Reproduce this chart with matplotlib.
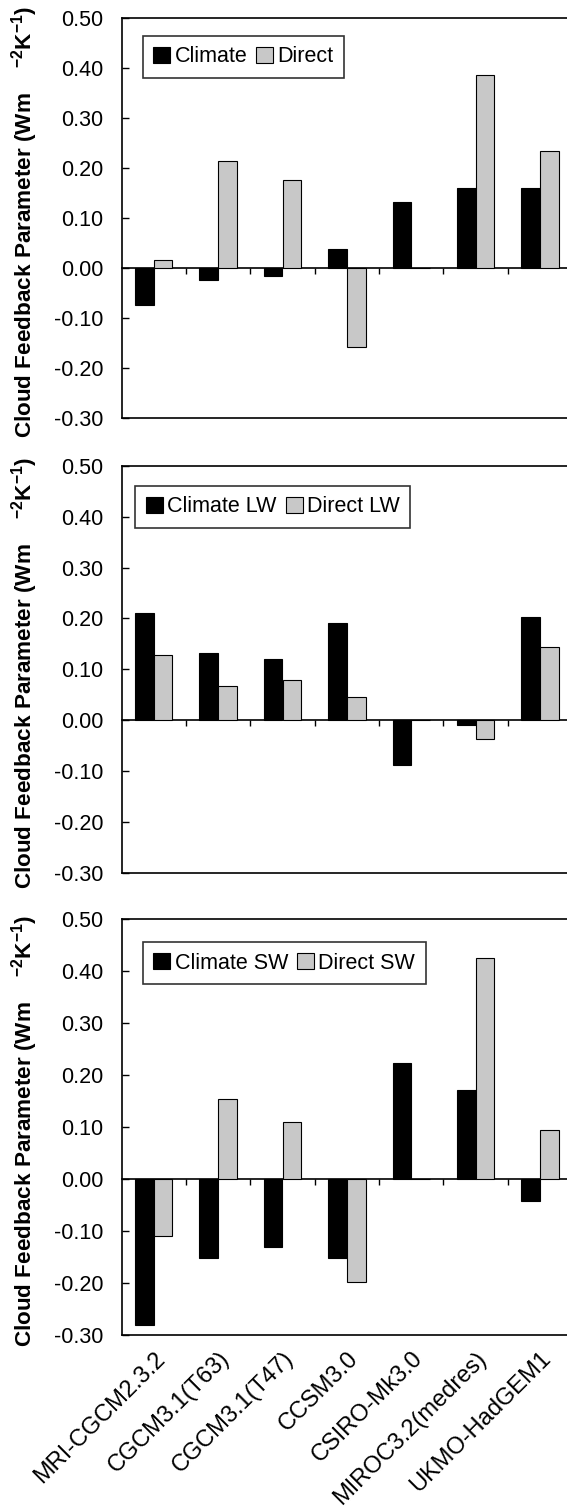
import numpy as np
import matplotlib
matplotlib.use("Agg")
import matplotlib.pyplot as plt

plt.rcParams['font.family'] = ['Liberation Sans', 'DejaVu Sans']
plt.rcParams['mathtext.fontset'] = 'custom'
plt.rcParams['mathtext.rm'] = 'Liberation Sans'
plt.rcParams['mathtext.bf'] = 'Liberation Sans:bold'
plt.rcParams['mathtext.default'] = 'bf'
plt.rcParams['axes.unicode_minus'] = False

# modelle
models = ['MRI-CGCM2.3.2', 'CGCM3.1(T63)', 'CGCM3.1(T47)', 'CCSM3.0',
          'CSIRO-Mk3.0', 'MIROC3.2(medres)', 'UKMO-HadGEM1']

# total cloud feedback
climate_net = [-0.073, -0.023, -0.015, 0.038, 0.131, 0.160, 0.160]
direct_net = [0.017, 0.214, 0.176, -0.157, 0.0, 0.386, 0.234]

# longwave
climate_lw = [0.211, 0.133, 0.121, 0.191, -0.088, -0.010, 0.203]
direct_lw = [0.128, 0.067, 0.080, 0.046, 0.0, -0.037, 0.144]

# shortwave
climate_sw = [-0.280, -0.151, -0.131, -0.151, 0.224, 0.172, -0.042]
direct_sw = [-0.110, 0.154, 0.110, -0.199, 0.0, 0.425, 0.094]

panels = [
    (climate_net, direct_net, 'Climate', 'Direct'),
    (climate_lw, direct_lw, 'Climate LW', 'Direct LW'),
    (climate_sw, direct_sw, 'Climate SW', 'Direct SW'),
]

# achsen-positionen (pixel): oben, unten
W, H = 567, 1507
left_px, width_px = 121.5, 450.8
boxes = [(17.7, 418.3), (465.7, 873.0), (919.0, 1335.0)]
legend_anchor = [(0.047, 0.955), (0.031, 0.951), (0.047, 0.945)]

ymin, ymax = -0.30, 0.50
bar_w = 0.29
grey = '#c8c8c8'
fs = 15.5

fig = plt.figure(figsize=(W / 100, H / 100), dpi=100)
x = np.arange(len(models))

for i, (clim, drct, lab_c, lab_d) in enumerate(panels):
    top, bot = boxes[i]
    ax = fig.add_axes([left_px / W, (H - bot) / H, width_px / W, (bot - top) / H])

    ax.bar(x - bar_w / 2, clim, bar_w, color='black', edgecolor='black',
           linewidth=0.8, label=lab_c, zorder=3)
    ax.bar(x + bar_w / 2, drct, bar_w, color=grey, edgecolor='black',
           linewidth=0.8, label=lab_d, zorder=3)

    ax.set_xlim(-0.5, len(models) - 0.5)
    ax.set_ylim(ymin, ymax)
    ax.set_yticks(np.arange(-0.3, 0.51, 0.1))
    ax.yaxis.set_major_formatter(matplotlib.ticker.FormatStrFormatter('%.2f'))
    ax.tick_params(axis='y', direction='in', length=5, width=1.0,
                   labelsize=fs, pad=13)

    for s in ['left', 'top', 'bottom', 'right']:
        ax.spines[s].set_linewidth(1.2)

    ax.set_xticks(x)
    if i == len(panels) - 1:
        ax.set_xticklabels(models, rotation=45, ha='right', va='top',
                           rotation_mode='anchor', fontsize=17)
        ax.tick_params(axis='x', length=0, pad=9)
    else:
        ax.set_xticklabels([])
        ax.tick_params(axis='x', length=0)

    # null-linie mit strichen zwischen den kategorien
    zero = ax.secondary_xaxis((0 - ymin) / (ymax - ymin))
    zero.set_xticks(np.arange(0.5, len(models) - 0.5, 1.0))
    zero.set_xticklabels([])
    zero.tick_params(direction='out', length=4, width=1.0)
    zero.spines['bottom'].set_linewidth(1.2)

    leg = ax.legend(ncol=2, loc='upper left', bbox_to_anchor=legend_anchor[i],
                    borderaxespad=0, fontsize=fs, frameon=True, fancybox=False,
                    handlelength=0.78, handleheight=0.78, handletextpad=0.2,
                    columnspacing=0.42, borderpad=0.5)
    leg.get_frame().set_edgecolor('black')
    leg.get_frame().set_linewidth(1.2)

    yc = 1 - ((top + bot) / 2 + 3.5) / H
    fig.text(25 / W, yc, 'Cloud Feedback Parameter (Wm    $^{-2}$K$^{-1}$)',
             rotation=90, ha='center', va='center', fontsize=16.2,
             fontweight='bold')

fig.savefig('out.png', dpi=100)
